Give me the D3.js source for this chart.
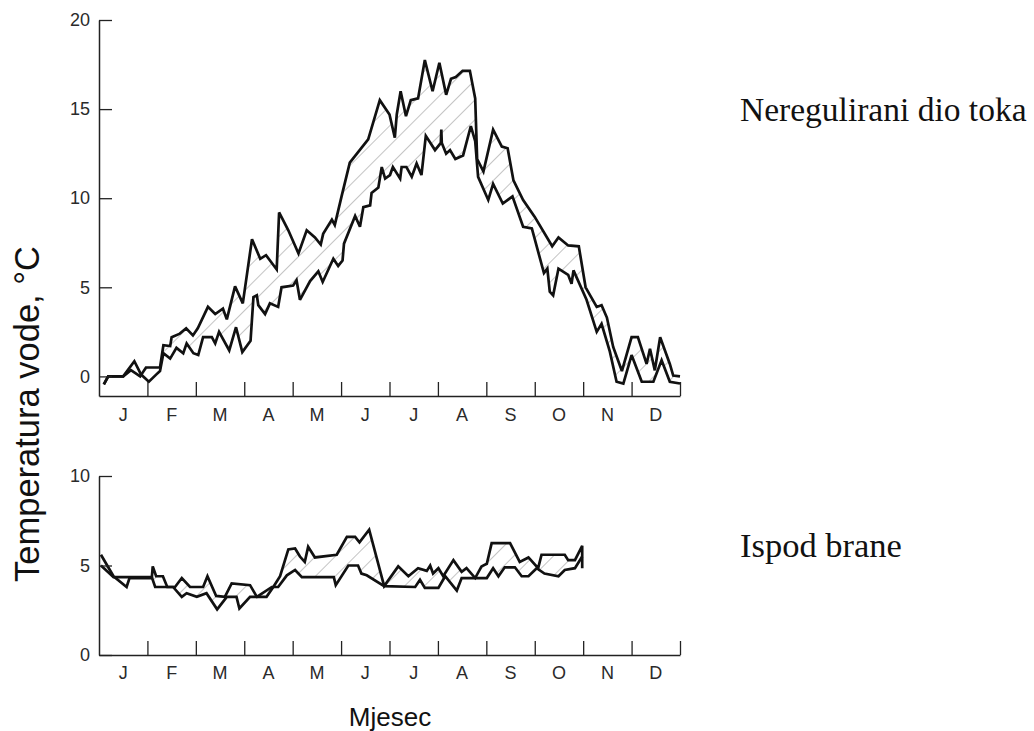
<!DOCTYPE html>
<html>
<head>
<meta charset="utf-8">
<script src="https://cdn.jsdelivr.net/npm/d3@7"></script>
<style>
  html, body { margin: 0; padding: 0; background: #fff; }
  svg { display: block; }
  .tick text { font-family: "Liberation Sans", Arial, sans-serif; }
</style>
</head>
<body>
<svg id="chart" width="1034" height="731"></svg>
<script>
// ---------- DATA (x = position in months from 1 Jan, y = water temperature °C) ----------
const months = ["J", "F", "M", "A", "M", "J", "J", "A", "S", "O", "N", "D"];
const topTicks = [0, 5, 10, 15, 20];
const bottomTicks = [0, 5, 10];

// Unregulated river section – upper (daily maximum) line
const topUpper = [
  [0.10,-0.45],[0.19,0],[0.50,0],[0.66,0.35],[0.85,0.0],[0.97,0.5],[1.26,0.5],[1.33,1.75],
  [1.47,1.7],[1.50,2.2],[1.67,2.4],[1.80,2.7],[1.94,2.3],[2.04,2.7],[2.25,3.9],[2.40,3.5],
  [2.56,3.8],[2.64,3.2],[2.81,5.05],[2.97,4.1],[3.16,7.7],[3.33,6.6],[3.45,6.8],[3.67,6.0],
  [3.72,9.2],[3.91,8.2],[4.12,6.9],[4.29,8.2],[4.46,7.8],[4.58,7.4],[4.63,8.0],[4.81,8.8],
  [4.87,8.5],[5.01,10.1],[5.18,12.0],[5.56,13.3],[5.80,15.5],[6.00,14.7],[6.11,13.4],
  [6.15,14.7],[6.23,16.0],[6.34,14.6],[6.44,15.5],[6.59,15.6],[6.73,17.75],[6.89,16.0],
  [7.03,17.6],[7.17,15.8],[7.27,16.7],[7.37,16.8],[7.51,17.15],[7.66,17.15],[7.77,15.6],
  [7.81,12.2],[7.94,11.5],[8.14,13.85],[8.32,12.9],[8.44,12.8],[8.56,11.0],[8.76,9.9],
  [9.00,8.95],[9.36,7.3],[9.49,7.8],[9.69,7.35],[9.91,7.3],[10.05,5.0],[10.28,3.9],
  [10.38,4.0],[10.49,3.3],[10.62,1.65],[10.80,0.3],[11.00,2.2],[11.13,2.2],[11.31,0.7],
  [11.38,1.55],[11.48,0.34],[11.59,2.2],[11.79,0.7],[11.86,0.05],[12.00,0.0]
];
// Unregulated river section – lower (daily minimum) line
const topLower = [
  [0.10,-0.45],[0.19,0],[0.50,0],[0.73,0.85],[0.87,0.1],[1.03,-0.3],[1.18,0.1],[1.26,0.3],
  [1.33,1.3],[1.47,1.0],[1.60,1.6],[1.74,1.3],[1.81,1.85],[1.95,1.3],[2.05,1.2],[2.15,2.2],
  [2.33,2.2],[2.40,1.85],[2.48,2.5],[2.69,1.46],[2.83,2.76],[2.96,1.36],[3.13,2.0],[3.19,4.45],
  [3.26,4.55],[3.29,4.0],[3.43,3.5],[3.53,4.1],[3.70,3.9],[3.77,5.0],[4.01,5.1],[4.08,5.4],
  [4.15,4.3],[4.36,5.35],[4.53,5.9],[4.62,5.3],[4.84,6.6],[4.94,6.2],[5.03,6.5],[5.06,7.45],
  [5.29,9.0],[5.39,8.4],[5.46,9.5],[5.60,9.6],[5.63,10.3],[5.77,10.6],[5.84,11.75],[5.91,11.1],
  [6.01,11.3],[6.07,11.75],[6.22,11.1],[6.25,11.75],[6.35,11.75],[6.46,11.2],[6.56,11.95],
  [6.66,11.3],[6.75,13.5],[6.94,12.7],[7.06,13.1],[7.07,13.85],[7.08,13.1],[7.17,12.5],
  [7.25,12.7],[7.36,12.2],[7.52,12.4],[7.68,14.05],[7.77,13.2],[7.83,11.2],[8.04,9.9],
  [8.14,10.8],[8.34,9.7],[8.54,10.1],[8.76,8.4],[8.94,8.3],[9.19,5.8],[9.26,6.05],[9.31,4.75],
  [9.38,4.55],[9.49,6.05],[9.69,5.7],[9.76,5.2],[9.80,5.95],[10.07,4.3],[10.28,2.5],
  [10.38,2.95],[10.55,1.4],[10.69,-0.3],[10.83,-0.4],[11.00,1.2],[11.21,-0.3],[11.45,-0.3],
  [11.62,0.9],[11.79,-0.3],[12.00,-0.4]
];
// Below the dam – first line
const bottomA = [
  [0.04,5.6],[0.30,4.4],[0.57,3.8],[0.63,4.3],[1.09,4.3],[1.11,4.95],[1.18,4.4],[1.32,4.4],
  [1.41,3.8],[1.57,3.8],[1.71,4.3],[1.88,3.8],[2.15,3.8],[2.24,4.4],[2.42,3.3],[2.60,3.25],
  [2.74,4.0],[3.12,3.9],[3.26,3.25],[3.46,3.25],[3.60,3.8],[3.74,4.4],[3.82,5.1],[3.91,5.9],
  [4.05,5.95],[4.15,5.5],[4.25,5.2],[4.32,6.05],[4.46,5.45],[4.91,5.6],[5.12,6.6],[5.29,6.6],
  [5.38,6.3],[5.58,7.0],[5.89,3.85],[6.18,4.95],[6.39,4.4],[6.59,4.85],[6.77,4.7],[6.84,5.0],
  [6.90,4.55],[7.01,4.85],[7.11,4.4],[7.32,5.3],[7.49,4.65],[7.59,4.85],[7.77,4.3],[7.90,4.95],
  [8.01,5.1],[8.11,6.25],[8.49,6.25],[8.69,5.2],[8.87,5.45],[9.07,4.85],[9.14,5.6],[9.62,5.6],
  [9.69,5.3],[9.83,5.3],[9.98,6.1],[9.98,4.85]
];
// Below the dam – second line
const bottomB = [
  [0.04,5.0],[0.30,4.35],[1.09,4.35],[1.16,3.8],[1.53,3.8],[1.71,3.25],[1.81,3.45],[2.02,3.25],
  [2.22,3.45],[2.44,2.55],[2.64,3.25],[2.84,3.25],[2.90,2.6],[3.12,3.25],[3.26,3.25],[3.57,3.8],
  [3.70,3.8],[3.88,4.45],[4.05,4.75],[4.19,4.35],[4.85,4.35],[4.89,3.9],[5.15,5.0],[5.35,5.0],
  [5.42,4.55],[5.53,4.45],[5.89,3.85],[6.53,3.8],[6.63,4.2],[6.73,3.75],[7.01,3.75],[7.15,4.4],
  [7.39,3.6],[7.49,4.3],[8.01,4.3],[8.14,4.85],[8.25,4.4],[8.38,4.9],[8.59,4.9],[8.73,4.4],
  [8.87,4.4],[9.04,4.85],[9.20,4.55],[9.49,4.4],[9.62,4.75],[9.83,4.85],[9.98,5.5]
];

const labels = {
  yTitle: "Temperatura vode, °C",
  xTitle: "Mjesec",
  top: "Neregulirani dio toka",
  bottom: "Ispod brane"
};

// ---------- DRAWING ----------
const svg = d3.select("#chart");
svg.append("rect").attr("width", 1034).attr("height", 731).attr("fill", "#fff");

const defs = svg.append("defs");
const pat = defs.append("pattern")
  .attr("id", "hatch").attr("patternUnits", "userSpaceOnUse")
  .attr("width", 14).attr("height", 14)
  .attr("patternTransform", "rotate(45)");
pat.append("line").attr("x1", 0).attr("y1", 0).attr("x2", 0).attr("y2", 14)
  .attr("stroke", "#8a8a8a").attr("stroke-width", 1);

const x = d3.scaleLinear().domain([0, 12]).range([99, 680]);
const yTop = d3.scaleLinear().domain([-1.1, 20]).range([396, 20]);
const yBot = d3.scaleLinear().domain([0, 10]).range([655, 476]);

const font = '"Liberation Sans", Arial, Helvetica, sans-serif';
const textColor = "#2a2a2a";

function panel(y, ticks, upper, lower, baseY, labelY) {
  const g = svg.append("g");

  // hatched band between the two lines
  const poly = upper.concat(lower.slice().reverse());
  g.append("path")
    .attr("d", d3.line().x(d => x(d[0])).y(d => y(d[1]))(poly) + "Z")
    .attr("fill", "url(#hatch)").attr("stroke", "none");

  const line = d3.line().x(d => x(d[0])).y(d => y(d[1]));
  [upper, lower].forEach(s => {
    g.append("path").attr("d", line(s))
      .attr("fill", "none").attr("stroke", "#111")
      .attr("stroke-width", 2.7).attr("stroke-linejoin", "miter")
      .attr("stroke-miterlimit", 3);
  });

  // y axis
  const ya = g.append("g").attr("transform", `translate(${x(0)},0)`)
    .call(d3.axisLeft(y).tickValues(ticks).tickSize(-13).tickSizeOuter(0).tickPadding(9)
      .tickFormat(d3.format("d")));
  ya.select(".domain").attr("stroke", "#222").attr("stroke-width", 1.5);
  ya.selectAll(".tick line").attr("stroke", "#222").attr("stroke-width", 1.3);
  ya.selectAll(".tick text").attr("font-size", 18).attr("font-family", font)
    .attr("fill", textColor);

  // x axis ticks (month boundaries) pointing upward
  const xa = g.append("g").attr("transform", `translate(0,${baseY})`)
    .call(d3.axisBottom(x).tickValues(d3.range(1, 13)).tickSize(-14).tickSizeOuter(0)
      .tickFormat(""));
  xa.select(".domain").attr("stroke", "#222").attr("stroke-width", 1.5);
  xa.selectAll(".tick line").attr("stroke", "#222").attr("stroke-width", 1.3);

  // month labels
  g.selectAll("text.month").data(months).enter().append("text")
    .attr("class", "month")
    .attr("x", (d, i) => x(i + 0.5)).attr("y", labelY)
    .attr("text-anchor", "middle").attr("font-size", 18).attr("font-family", font)
    .attr("fill", textColor).text(d => d);
}

panel(yTop, topTicks, topUpper, topLower, 396, 421);
panel(yBot, bottomTicks, bottomA, bottomB, 655, 679);

// titles
svg.append("text").attr("transform", "translate(39,414) rotate(-90)")
  .attr("text-anchor", "middle").attr("font-size", 34.5).attr("font-family", font)
  .attr("fill", "#111").text(labels.yTitle);
svg.append("text").attr("x", 390).attr("y", 726).attr("text-anchor", "middle")
  .attr("font-size", 26).attr("font-family", font).attr("fill", "#111").text(labels.xTitle);

const serif = '"Liberation Serif", "Times New Roman", serif';
svg.append("text").attr("x", 740).attr("y", 121).attr("font-size", 33.5)
  .attr("font-family", serif).attr("fill", "#111").text(labels.top);
svg.append("text").attr("x", 740).attr("y", 557).attr("font-size", 34.5)
  .attr("font-family", serif).attr("fill", "#111").text(labels.bottom);
</script>
</body>
</html>
